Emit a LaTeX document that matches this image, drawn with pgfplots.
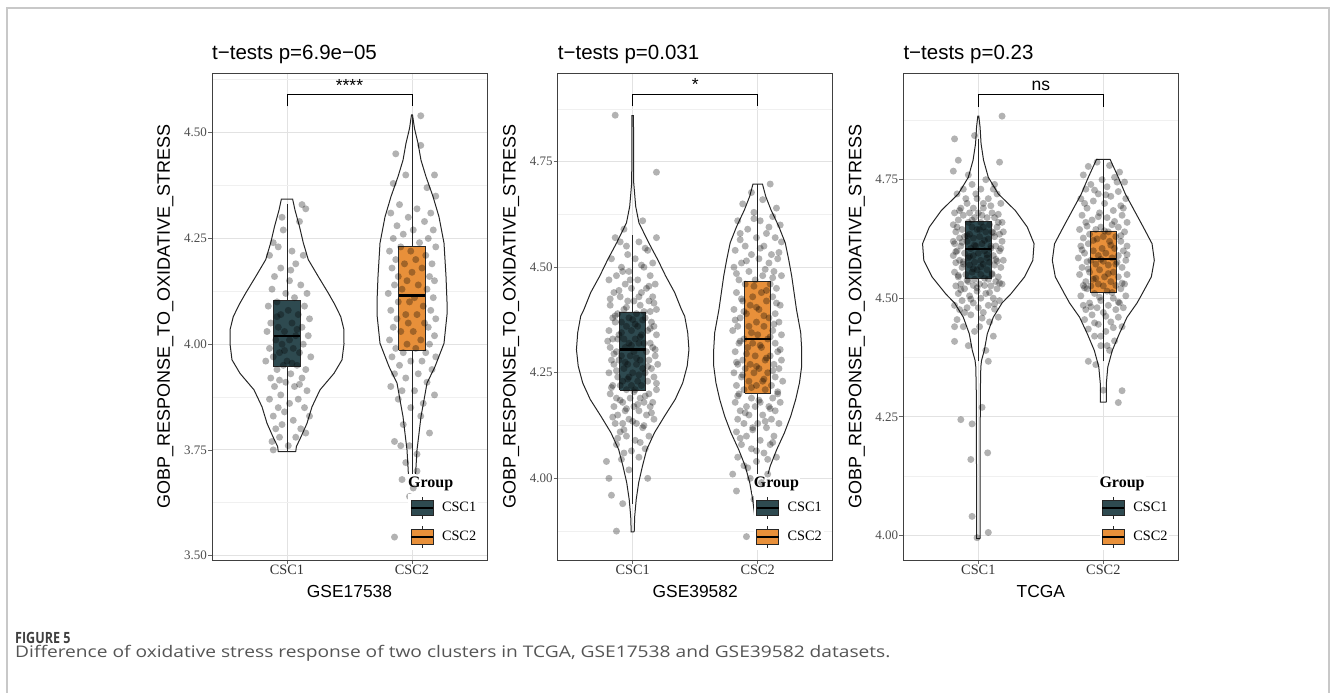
\documentclass[border=0pt]{standalone}
\usepackage{fontspec}
\setmainfont{Liberation Serif}
\newfontfamily\arial{Liberation Sans}
\newfontfamily\capfont{Open Sans}
\usepackage{pgfplots}
\pgfplotsset{compat=1.18}
\definecolor{cscA}{HTML}{2E4A50}
\definecolor{cscB}{HTML}{E8903A}
\definecolor{tickgray}{HTML}{4D4D4D}
\definecolor{majgrid}{HTML}{E2E2E2}
\definecolor{mingrid}{HTML}{F0F0F0}
\definecolor{framegray}{HTML}{C8C8C8}
\definecolor{capgray}{HTML}{555555}

\pgfplotsset{
  panel/.style={
    scale only axis, width=275pt, height=487pt,
    anchor=south west,
    xmin=0.4, xmax=2.6,
    xtick={1,2}, xticklabels={CSC1,CSC2},
    axis line style={black!75, line width=0.9pt},
    tick align=outside, major tick length=4pt, minor tick length=0pt,
    tick style={black!60, line width=0.8pt},
    tick pos=left,
    xmajorgrids=true, ymajorgrids=true, yminorgrids=true,
    major grid style={majgrid, line width=1pt},
    minor grid style={mingrid, line width=0.7pt},
    yticklabel style={font=\fontsize{13}{13}\selectfont, text=tickgray, inner sep=1pt},
    xticklabel style={font=\fontsize{14.3}{14.3}\selectfont, text=black!80, inner sep=1pt},
    legend style={at={(0.7127,0.0195)}, anchor=south west, draw=none, fill=white,
      inner sep=2pt, row sep=6.3pt, font=\fontsize{14.3}{14.3}\selectfont,
      cells={anchor=west}, nodes={inner sep=0pt},
      /tikz/every odd column/.append style={column sep=8.3pt}},
  },
  violin/.style={forget plot, black!85, line width=1pt, mark=none},
  pts/.style={forget plot, only marks, mark=*, mark size=3.5pt,
    mark options={draw opacity=0, fill=black, fill opacity=0.3}},
  whisk/.style={forget plot, black!85, line width=0.8pt, mark=none},
  boxA/.style={forget plot, draw=black!85, fill=cscA, line width=0.8pt, mark=none},
  boxB/.style={forget plot, draw=black!85, fill=cscB, line width=0.8pt, mark=none},
  med/.style={forget plot, black, line width=2.2pt, mark=none},
  brk/.style={forget plot, black, line width=0.9pt, mark=none},
}
\newcommand{\keyA}{\addlegendimage{legend image code/.code={%
  \draw[black!85,line width=0.8pt] (11pt,-11pt)--(11pt,11pt);
  \draw[black!85,line width=0.8pt,fill=cscA] (0pt,-7.5pt) rectangle (22pt,7.5pt);
  \draw[black,line width=1.5pt] (0pt,0pt)--(22pt,0pt);}}\addlegendentry{CSC1}}
\newcommand{\keyB}{\addlegendimage{legend image code/.code={%
  \draw[black!85,line width=0.8pt] (11pt,-11pt)--(11pt,11pt);
  \draw[black!85,line width=0.8pt,fill=cscB] (0pt,-7.5pt) rectangle (22pt,7.5pt);
  \draw[black,line width=1.5pt] (0pt,0pt)--(22pt,0pt);}}\addlegendentry{CSC2}}
\newcommand{\grouptitle}{\node[anchor=base west, font=\fontsize{16}{16}\selectfont\bfseries, fill=white, inner xsep=1.5pt, inner ysep=3pt] at (rel axis cs:0.7073,0.1495) {Group};}

\begin{document}
\begin{tikzpicture}[x=1pt,y=1pt]
\path[use as bounding box] (0pt,0pt) rectangle (1330pt,693pt);
\draw[framegray, line width=1.5pt] (7pt,0pt) -- (7pt,685pt) -- (1329pt,685pt) -- (1329pt,0pt);

% ---------------- Panel 1: GSE17538 ----------------
\begin{axis}[panel, at={(212pt,133pt)},
  ymin=3.4898, ymax=4.6411,
  ytick={3.5,3.75,4,4.25,4.5}, yticklabels={3.50,3.75,4.00,4.25,4.50},
  minor ytick={3.625,3.875,4.125,4.375,4.625}]
\addplot[violin] coordinates {(1.07,3.746) (1.075,3.758) (1.112,3.781) (1.16,3.813) (1.20,3.852) (1.264,3.892) (1.376,3.931) (1.44,3.963) (1.456,4.001) (1.455,4.035) (1.43,4.065) (1.38,4.095) (1.33,4.121) (1.25,4.16) (1.17,4.20) (1.13,4.24) (1.10,4.278) (1.064,4.317) (1.045,4.343)
 (0.955,4.343) (0.936,4.317) (0.90,4.278) (0.87,4.24) (0.83,4.20) (0.75,4.16) (0.67,4.121) (0.62,4.095) (0.57,4.065) (0.545,4.035) (0.544,4.001) (0.56,3.963) (0.624,3.931) (0.736,3.892) (0.80,3.852) (0.84,3.813) (0.888,3.781) (0.925,3.758) (0.93,3.746) (1.07,3.746)};
\addplot[violin] coordinates {(2.006,3.545) (2.01,3.60) (2.014,3.64) (2.024,3.663) (2.032,3.71) (2.04,3.75) (2.056,3.789) (2.072,3.829) (2.096,3.868) (2.12,3.908) (2.184,3.947) (2.256,4.002) (2.28,4.07) (2.28,4.10) (2.272,4.16) (2.256,4.239) (2.216,4.301) (2.168,4.349) (2.112,4.396) (2.072,4.435) (2.048,4.475) (2.02,4.51) (2.004,4.542)
 (1.996,4.542) (1.98,4.51) (1.952,4.475) (1.928,4.435) (1.888,4.396) (1.832,4.349) (1.784,4.301) (1.744,4.239) (1.728,4.16) (1.72,4.10) (1.72,4.07) (1.744,4.002) (1.816,3.947) (1.88,3.908) (1.904,3.868) (1.928,3.829) (1.944,3.789) (1.96,3.75) (1.968,3.71) (1.976,3.663) (1.986,3.64) (1.99,3.60) (1.994,3.545) (2.006,3.545)};
\addplot[whisk] coordinates {(1,3.748) (1,4.331)};
\addplot[boxA] coordinates {(0.895,3.947) (1.105,3.947) (1.105,4.104) (0.895,4.104) (0.895,3.947)};
\addplot[med] coordinates {(0.895,4.019) (1.105,4.019)};
\addplot[whisk] coordinates {(2,3.643) (2,4.538)};
\addplot[boxB] coordinates {(1.895,3.986) (2.105,3.986) (2.105,4.231) (1.895,4.231) (1.895,3.986)};
\addplot[med] coordinates {(1.895,4.115) (2.105,4.115)};
\addplot[pts] coordinates {
(1.12,4.33) (1.15,4.32) (0.96,4.30) (1.10,4.29) (0.97,4.27) (0.89,4.24) (0.93,4.23) (1.04,4.22) (1.13,4.21) (0.86,4.21) (1.07,4.19) (0.95,4.18)
(0.90,4.16) (1.02,4.15) (1.11,4.14) (0.88,4.13) (0.99,4.12) (1.16,4.12) (1.06,4.11) (0.92,4.10) (1.14,4.09) (0.85,4.09) (1.01,4.08) (1.09,4.07) (0.95,4.07) (1.18,4.06)
(0.87,4.05) (1.04,4.05) (0.93,4.04) (1.12,4.04) (0.98,4.03) (0.84,4.03) (1.07,4.02) (1.17,4.02) (0.91,4.01) (1.02,4.01) (0.96,4.00) (1.13,4.00) (0.86,3.99) (1.05,3.99) (0.94,3.98) (1.10,3.98) (1.19,3.97) (0.89,3.97) (1.00,3.96) (0.83,3.96) (1.08,3.95) (0.97,3.95) (1.15,3.94) (0.92,3.94) (1.03,3.93) (0.87,3.92) (1.12,3.92) (0.99,3.91) (1.06,3.90) (0.90,3.90)
(1.16,3.89) (0.95,3.88) (1.09,3.87) (0.86,3.87) (1.02,3.86) (0.93,3.85) (1.14,3.85) (0.98,3.84) (1.18,3.83) (0.89,3.83) (1.05,3.82) (0.96,3.81) (1.11,3.80) (0.91,3.80)
(1.15,3.79) (0.94,3.78) (1.07,3.78) (0.88,3.77) (1.01,3.76) (0.89,3.75)
(1.03,4.175) (0.92,4.065) (1.08,4.035) (0.98,3.985) (1.04,3.955) (0.94,3.915) (1.10,3.905)};
\addplot[pts] coordinates {
(2.07,4.54) (1.87,4.45) (2.07,4.47) (1.95,4.40) (2.18,4.40) (1.85,4.38) (2.19,4.35) (2.12,4.37)
(1.90,4.33) (2.04,4.32) (1.83,4.31) (2.15,4.31) (1.97,4.30) (2.10,4.29) (1.88,4.28) (2.17,4.27) (2.01,4.27) (1.93,4.26) (2.13,4.25) (1.85,4.25)
(2.06,4.24) (1.91,4.23) (2.19,4.23) (1.82,4.22) (1.99,4.22) (2.11,4.21) (1.87,4.20) (2.03,4.20) (2.16,4.19) (1.94,4.19) (1.84,4.18) (2.08,4.18) (2.00,4.17) (2.14,4.16) (1.89,4.16) (1.96,4.15) (2.18,4.15)
(1.86,4.14) (2.05,4.14) (2.12,4.13) (1.92,4.13) (1.81,4.12) (2.02,4.11) (2.17,4.11) (1.98,4.10) (1.89,4.10) (2.09,4.09) (2.15,4.08) (1.83,4.08) (1.95,4.07) (2.04,4.07) (2.19,4.06) (1.88,4.06) (2.10,4.05) (1.97,4.05)
(1.85,4.04) (2.13,4.04) (2.01,4.03) (1.91,4.03) (2.18,4.02) (1.82,4.01) (2.07,4.01) (1.96,4.00) (2.14,4.00) (1.87,3.99) (2.03,3.99) (1.93,3.98) (2.11,3.98) (1.84,3.97) (2.19,3.97) (1.99,3.96) (2.08,3.96) (1.90,3.95)
(2.16,3.94) (1.86,3.93) (2.05,3.93) (1.95,3.92) (2.12,3.91) (1.83,3.90) (2.02,3.89) (1.92,3.89) (2.18,3.88) (1.89,3.87) (2.09,3.86)
(1.99,3.85) (2.07,3.83) (1.93,3.81) (2.14,3.79) (1.86,3.77) (1.91,3.76) (1.98,3.76) (2.04,3.74) (1.95,3.72) (2.04,3.70) (1.92,3.68) (2.01,3.66) (1.98,3.64) (1.86,3.544)};
\addplot[brk] coordinates {(1,4.562) (1,4.591) (2,4.591) (2,4.562)};
\node[anchor=base, inner sep=0pt, font=\arial\fontsize{17.5}{18}\selectfont] at (axis cs:1.5,4.598) {****};
\keyA \keyB
\grouptitle
\end{axis}

% ---------------- Panel 2: GSE39582 ----------------
\begin{axis}[panel, at={(557.7pt,133pt)},
  ymin=3.8066, ymax=4.960,
  ytick={4,4.25,4.5,4.75}, yticklabels={4.00,4.25,4.50,4.75},
  minor ytick={3.875,4.125,4.375,4.625,4.875}]
\addplot[violin] coordinates {(1.012,3.873) (1.016,3.91) (1.028,3.95) (1.048,3.99) (1.078,4.029) (1.112,4.068) (1.174,4.108) (1.254,4.147) (1.34,4.187) (1.40,4.226) (1.436,4.266) (1.45,4.305) (1.44,4.345) (1.416,4.384) (1.39,4.40) (1.336,4.44) (1.264,4.479) (1.20,4.518) (1.128,4.558) (1.05,4.605) (1.024,4.644) (1.008,4.70) (1.006,4.859)
 (0.994,4.859) (0.992,4.70) (0.976,4.644) (0.95,4.605) (0.872,4.558) (0.80,4.518) (0.736,4.479) (0.664,4.44) (0.61,4.40) (0.584,4.384) (0.56,4.345) (0.55,4.305) (0.564,4.266) (0.60,4.226) (0.66,4.187) (0.746,4.147) (0.826,4.108) (0.888,4.068) (0.922,4.029) (0.952,3.99) (0.972,3.95) (0.984,3.91) (0.988,3.873) (1.012,3.873)};
\addplot[violin] coordinates {(2.012,3.862) (2.024,3.91) (2.04,3.95) (2.064,3.99) (2.10,4.029) (2.152,4.068) (2.214,4.108) (2.264,4.147) (2.304,4.187) (2.334,4.226) (2.352,4.266) (2.352,4.305) (2.344,4.345) (2.31,4.40) (2.272,4.479) (2.248,4.518) (2.22,4.558) (2.168,4.597) (2.106,4.636) (2.064,4.668) (2.038,4.697)
 (1.962,4.697) (1.936,4.668) (1.894,4.636) (1.832,4.597) (1.78,4.558) (1.752,4.518) (1.728,4.479) (1.69,4.40) (1.656,4.345) (1.648,4.305) (1.648,4.266) (1.666,4.226) (1.696,4.187) (1.736,4.147) (1.786,4.108) (1.848,4.068) (1.90,4.029) (1.936,3.99) (1.96,3.95) (1.976,3.91) (1.988,3.862) (2.012,3.862)};
\addplot[whisk] coordinates {(1,3.94) (1,4.577)};
\addplot[boxA] coordinates {(0.895,4.209) (1.105,4.209) (1.105,4.394) (0.895,4.394) (0.895,4.209)};
\addplot[med] coordinates {(0.895,4.305) (1.105,4.305)};
\addplot[whisk] coordinates {(2,3.862) (2,4.697)};
\addplot[boxB] coordinates {(1.895,4.201) (2.105,4.201) (2.105,4.467) (1.895,4.467) (1.895,4.201)};
\addplot[med] coordinates {(1.895,4.330) (2.105,4.330)};
\addplot[pts] coordinates {
(0.86,4.86) (1.19,4.725) (0.93,4.59) (1.08,4.61)
(0.86,4.57) (1.19,4.57) (1.05,4.56) (0.95,4.55) (1.12,4.54)
(0.83,4.52) (1.02,4.52) (1.16,4.51) (0.91,4.50) (1.09,4.50) (0.97,4.49) (1.14,4.48) (0.87,4.48)
(1.04,4.47) (0.81,4.47) (1.18,4.46) (0.94,4.46) (1.11,4.45) (0.99,4.45) (0.85,4.44) (1.07,4.44) (1.16,4.43) (0.90,4.43) (1.01,4.42) (0.96,4.42)
(1.13,4.42) (0.82,4.41) (1.06,4.41) (0.93,4.40) (1.19,4.40) (0.88,4.39) (1.03,4.39) (1.10,4.38) (0.97,4.38) (0.84,4.38) (1.15,4.37) (0.91,4.37) (1.00,4.376) (1.08,4.375)
(0.86,4.37) (1.17,4.36) (0.95,4.36) (1.04,4.36) (0.81,4.35) (1.12,4.35) (0.99,4.35) (0.89,4.34) (1.07,4.34) (1.19,4.34) (0.93,4.33) (1.02,4.33) (0.84,4.33) (1.14,4.32) (0.97,4.32) (1.09,4.32) (0.88,4.33)
(1.05,4.32) (0.82,4.31) (1.16,4.31) (0.94,4.31) (1.01,4.30) (0.87,4.30) (1.11,4.30) (0.98,4.29) (1.18,4.29) (0.91,4.29) (1.06,4.28) (0.83,4.28) (1.13,4.28) (0.96,4.27) (1.03,4.27) (0.89,4.28) (1.20,4.27)
(0.85,4.27) (1.08,4.26) (0.93,4.26) (1.15,4.26) (1.00,4.25) (0.81,4.25) (1.10,4.25) (0.97,4.24) (0.88,4.24) (1.17,4.24) (1.04,4.23) (0.92,4.23) (1.12,4.23) (0.84,4.22) (0.99,4.22) (1.07,4.22)
(0.90,4.22) (1.19,4.21) (0.95,4.21) (1.02,4.21) (0.82,4.20) (1.13,4.20) (0.87,4.19) (1.06,4.19) (0.98,4.19) (1.16,4.18) (0.92,4.18) (1.09,4.18) (0.85,4.17) (1.01,4.17)
(1.14,4.17) (0.94,4.16) (1.05,4.16) (0.88,4.15) (1.11,4.15) (0.97,4.14) (1.17,4.14) (0.86,4.13) (1.03,4.13) (0.92,4.13)
(1.08,4.12) (0.90,4.11) (1.13,4.10) (0.95,4.10) (1.02,4.09) (0.87,4.08)
(1.10,4.07) (0.93,4.06) (1.05,4.05) (0.79,4.04) (1.12,4.00) (0.81,4.00) (0.97,4.02) (0.83,3.96) (0.92,3.94) (0.87,3.875)
(0.98,4.47) (1.13,4.455) (0.89,4.445) (1.05,4.43) (0.82,4.425) (1.17,4.415) (0.95,4.405) (1.09,4.395) (0.86,4.385) (1.02,4.365) (1.14,4.355) (0.91,4.345) (1.06,4.335) (0.80,4.325) (0.99,4.315) (1.18,4.305) (0.85,4.295) (1.03,4.285) (0.94,4.275) (1.12,4.265) (0.87,4.255) (1.05,4.245) (0.96,4.235) (1.19,4.225) (0.83,4.215) (1.01,4.205) (1.10,4.195) (0.90,4.185) (1.04,4.175) (0.95,4.165) (1.15,4.155) (0.84,4.145) (1.00,4.135) (1.09,4.125) (0.93,4.115) (0.88,4.095) (1.06,4.085) (0.99,4.065) (0.91,4.045) (1.14,4.395) (0.92,4.49) (1.07,4.505) (0.96,4.53) (1.10,4.545) (0.90,4.56)};
\addplot[pts] coordinates {
(2.10,4.697) (1.95,4.677) (2.04,4.66) (1.88,4.65) (2.15,4.64) (1.97,4.63)
(2.12,4.62) (1.84,4.61) (2.02,4.61) (2.18,4.60) (1.92,4.59) (2.07,4.58)
(1.86,4.58) (2.14,4.57) (1.99,4.57) (2.19,4.56) (1.90,4.55) (2.05,4.55) (1.82,4.54) (2.11,4.53)
(1.95,4.53) (2.16,4.52) (2.01,4.52) (1.87,4.51) (2.09,4.51) (1.81,4.50) (2.13,4.49) (1.93,4.49) (2.04,4.48)
(2.19,4.48) (1.85,4.47) (1.98,4.47) (2.10,4.46) (1.90,4.46) (2.15,4.45) (2.03,4.44) (1.83,4.44) (1.96,4.43) (2.12,4.43)
(1.88,4.42) (2.07,4.42) (2.18,4.41) (1.94,4.41) (1.81,4.40) (2.01,4.40) (2.14,4.39) (1.91,4.39) (2.09,4.38) (1.86,4.38) (1.99,4.37)
(2.17,4.37) (1.84,4.36) (2.05,4.36) (1.93,4.36) (2.12,4.35) (1.80,4.35) (2.00,4.34) (2.19,4.34) (1.89,4.33) (2.08,4.33) (1.96,4.32) (2.14,4.32)
(1.85,4.32) (2.03,4.31) (1.92,4.31) (2.16,4.30) (1.82,4.30) (2.10,4.29) (1.98,4.29) (1.88,4.28) (2.06,4.28) (2.19,4.28) (1.94,4.27) (2.13,4.27) (1.84,4.27)
(2.01,4.26) (1.90,4.26) (2.17,4.26) (1.81,4.25) (2.08,4.25) (1.97,4.25) (2.14,4.24) (1.87,4.24) (2.04,4.23) (1.93,4.23) (2.20,4.23) (1.83,4.22) (2.11,4.22)
(1.99,4.22) (1.89,4.21) (2.06,4.21) (2.16,4.20) (1.85,4.20) (1.95,4.19) (2.12,4.19) (2.02,4.18) (1.82,4.18) (2.18,4.18) (1.91,4.17) (2.09,4.17)
(1.98,4.17) (1.86,4.16) (2.14,4.16) (2.04,4.15) (1.93,4.15) (1.84,4.14) (2.11,4.14) (2.00,4.13) (1.89,4.13) (2.17,4.13)
(1.96,4.12) (2.07,4.12) (1.83,4.11) (2.13,4.10) (1.91,4.10) (2.02,4.09) (1.87,4.08) (2.10,4.08)
(1.95,4.07) (2.05,4.06) (1.84,4.05) (2.15,4.05) (1.99,4.04) (1.89,4.03)
(1.80,4.01) (2.08,4.01) (1.94,4.00) (2.03,3.99) (1.83,3.97) (1.97,3.95) (1.91,3.862)
(1.97,4.615) (2.09,4.595) (1.86,4.565) (2.02,4.545) (2.17,4.535) (1.91,4.515) (2.06,4.495) (1.83,4.485) (2.12,4.475) (1.97,4.455) (2.07,4.445) (1.87,4.425) (2.15,4.415) (1.99,4.405) (1.89,4.395) (2.05,4.385) (1.82,4.375) (2.13,4.365) (1.95,4.345) (2.10,4.335) (1.86,4.325) (2.02,4.315) (2.18,4.305) (1.91,4.295) (2.07,4.285) (1.83,4.275) (1.99,4.265) (2.12,4.255) (1.88,4.245) (2.05,4.235) (1.95,4.215) (2.16,4.205) (1.84,4.195) (2.01,4.185) (2.10,4.165) (1.90,4.155) (2.06,4.135) (1.96,4.115) (1.86,4.095) (2.12,4.085) (1.99,4.065) (2.08,4.045) (1.92,4.025)};
\addplot[brk] coordinates {(1,4.881) (1,4.910) (2,4.910) (2,4.881)};
\node[anchor=base, inner sep=0pt, font=\arial\fontsize{17.5}{18}\selectfont] at (axis cs:1.5,4.918) {*};
\keyA \keyB
\grouptitle
\end{axis}

% ---------------- Panel 3: TCGA ----------------
\begin{axis}[panel, at={(903.3pt,133pt)},
  ymin=3.948, ymax=4.975,
  ytick={4,4.25,4.5,4.75}, yticklabels={4.00,4.25,4.50,4.75},
  minor ytick={4.125,4.375,4.625,4.875}]
\addplot[violin] coordinates {(1.014,3.993) (1.014,4.10) (1.015,4.20) (1.016,4.30) (1.02,4.355) (1.026,4.369) (1.048,4.39) (1.072,4.425) (1.12,4.46) (1.19,4.49) (1.26,4.509) (1.37,4.545) (1.436,4.58) (1.446,4.615) (1.392,4.65) (1.296,4.685) (1.16,4.72) (1.08,4.755) (1.042,4.791) (1.022,4.826) (1.014,4.861) (1.004,4.884)
 (0.996,4.884) (0.986,4.861) (0.978,4.826) (0.958,4.791) (0.92,4.755) (0.84,4.72) (0.704,4.685) (0.608,4.65) (0.554,4.615) (0.564,4.58) (0.63,4.545) (0.74,4.509) (0.81,4.49) (0.88,4.46) (0.928,4.425) (0.952,4.39) (0.974,4.369) (0.98,4.355) (0.984,4.30) (0.985,4.20) (0.986,4.10) (0.986,3.993) (1.014,3.993)};
\addplot[violin] coordinates {(2.024,4.281) (2.024,4.32) (2.036,4.355) (2.072,4.39) (2.128,4.425) (2.19,4.46) (2.27,4.49) (2.31,4.509) (2.384,4.545) (2.408,4.58) (2.39,4.615) (2.32,4.65) (2.248,4.685) (2.176,4.72) (2.12,4.755) (2.054,4.793)
 (1.946,4.793) (1.88,4.755) (1.824,4.72) (1.752,4.685) (1.68,4.65) (1.61,4.615) (1.592,4.58) (1.616,4.545) (1.69,4.509) (1.73,4.49) (1.81,4.46) (1.872,4.425) (1.928,4.39) (1.964,4.355) (1.976,4.32) (1.976,4.281) (2.024,4.281)};
\addplot[whisk] coordinates {(1,4.367) (1,4.836)};
\addplot[boxA] coordinates {(0.895,4.542) (1.105,4.542) (1.105,4.662) (0.895,4.662) (0.895,4.542)};
\addplot[med] coordinates {(0.895,4.603) (1.105,4.603)};
\addplot[whisk] coordinates {(2,4.367) (2,4.793)};
\addplot[boxB] coordinates {(1.895,4.513) (2.105,4.513) (2.105,4.642) (1.895,4.642) (1.895,4.513)};
\addplot[med] coordinates {(1.895,4.583) (2.105,4.583)};
\addplot[pts] coordinates {
(1.19,4.884) (0.97,4.843) (0.81,4.836) (0.84,4.791) (1.17,4.787) (0.80,4.768)
(0.92,4.76) (1.06,4.75) (1.13,4.74) (0.88,4.73) (1.02,4.73) (0.95,4.74)
(1.15,4.72) (0.83,4.72) (0.99,4.71) (1.08,4.71) (0.91,4.70) (1.18,4.70) (0.86,4.69) (1.04,4.69) (0.96,4.69) (1.11,4.68) (0.81,4.68) (1.00,4.68) (0.93,4.68) (1.16,4.677)
(0.88,4.675) (1.07,4.67) (0.97,4.67) (1.13,4.67) (0.84,4.665) (1.02,4.66) (0.92,4.66) (1.19,4.66) (0.80,4.655) (1.09,4.655) (0.95,4.65) (1.04,4.65) (1.15,4.65) (0.87,4.645) (0.99,4.645) (1.11,4.64) (0.82,4.64) (1.06,4.64) (0.93,4.635) (1.17,4.635) (0.89,4.63) (1.01,4.63) (1.13,4.63) (0.85,4.627) (0.96,4.627)
(1.08,4.625) (1.19,4.62) (0.91,4.62) (0.81,4.615) (1.03,4.615) (0.98,4.61) (1.14,4.61) (0.86,4.61) (1.10,4.605) (0.94,4.605) (0.83,4.60) (1.05,4.60) (1.17,4.60) (0.89,4.595) (1.00,4.595) (1.12,4.59) (0.96,4.59) (0.80,4.59) (1.07,4.585) (0.92,4.585) (1.20,4.58) (0.85,4.58) (1.02,4.58) (1.15,4.578) (0.88,4.577) (0.97,4.576) (1.09,4.576) (0.82,4.575)
(1.04,4.572) (0.93,4.57) (1.13,4.57) (0.87,4.565) (1.18,4.565) (0.99,4.56) (1.07,4.56) (0.81,4.555) (0.95,4.555) (1.11,4.55) (0.90,4.55) (1.02,4.55) (1.16,4.545) (0.84,4.545) (0.97,4.54) (1.08,4.54) (0.92,4.535) (1.14,4.535) (0.86,4.53) (1.01,4.53) (1.19,4.53) (0.96,4.527) (1.05,4.527) (0.82,4.526) (1.10,4.526)
(0.89,4.52) (1.15,4.52) (0.99,4.515) (1.06,4.51) (0.84,4.51) (0.93,4.505) (1.12,4.50) (1.02,4.50) (0.87,4.495) (1.17,4.495) (0.96,4.49) (1.08,4.485) (0.81,4.485) (1.00,4.48) (0.91,4.48) (1.13,4.477) (0.85,4.476)
(1.04,4.47) (0.94,4.465) (1.16,4.46) (0.83,4.455) (1.09,4.45) (0.88,4.44) (1.01,4.44) (0.81,4.44)
(1.12,4.42) (0.81,4.409) (0.92,4.40) (1.06,4.39)
(1.08,4.367) (1.03,4.27) (0.86,4.244) (0.95,4.235) (1.075,4.174) (0.94,4.16) (0.95,4.04) (1.08,4.006) (0.99,3.995)
(0.90,4.71) (1.10,4.695) (0.85,4.685) (1.03,4.675) (0.95,4.665) (1.16,4.66) (0.83,4.65) (1.01,4.645) (1.12,4.638) (0.91,4.632) (1.05,4.622) (0.87,4.618) (0.97,4.612) (1.18,4.605) (0.82,4.598) (1.07,4.592) (0.93,4.588) (1.14,4.582) (0.88,4.572) (1.02,4.566) (0.96,4.562) (1.11,4.552) (0.84,4.548) (1.05,4.542) (0.91,4.538) (1.17,4.532) (0.99,4.522) (0.86,4.518) (1.09,4.512) (0.94,4.498) (1.13,4.488) (0.89,4.47) (1.03,4.458) (0.97,4.43) (1.10,4.61) (0.80,4.62) (1.20,4.64) (1.04,4.70) (0.98,4.72) (1.12,4.73)};
\addplot[pts] coordinates {
(1.88,4.778) (1.95,4.787) (2.13,4.766) (2.05,4.78)
(1.84,4.76) (2.09,4.755) (1.99,4.75) (2.17,4.745) (1.90,4.74) (2.03,4.735) (1.86,4.73)
(2.12,4.725) (1.96,4.72) (2.06,4.715) (1.82,4.71) (2.18,4.71) (1.92,4.705) (2.01,4.70) (2.14,4.695) (1.87,4.69) (2.08,4.685) (1.97,4.68)
(1.83,4.675) (2.15,4.675) (2.03,4.67) (1.91,4.665) (2.19,4.66) (1.86,4.66) (2.07,4.655) (1.98,4.65) (2.12,4.65) (1.81,4.645) (1.94,4.645) (2.04,4.64) (2.17,4.64) (1.89,4.635) (2.00,4.63) (2.10,4.63) (1.84,4.627)
(1.95,4.625) (2.14,4.62) (2.05,4.62) (1.88,4.615) (2.19,4.61) (1.82,4.61) (1.99,4.605) (2.09,4.605) (1.92,4.60) (2.16,4.60) (1.85,4.595) (2.02,4.595) (2.12,4.59) (1.96,4.59) (1.80,4.585) (2.07,4.585) (1.90,4.58) (2.18,4.58) (2.00,4.578) (1.87,4.577) (2.11,4.576)
(1.94,4.572) (2.04,4.57) (1.83,4.565) (2.15,4.565) (1.97,4.56) (2.08,4.555) (1.89,4.555) (2.19,4.55) (1.81,4.55) (2.01,4.545) (2.12,4.545) (1.92,4.54) (1.86,4.535) (2.06,4.535) (2.17,4.53) (1.96,4.53) (1.84,4.527) (2.10,4.527) (2.00,4.526) (1.90,4.526)
(2.14,4.52) (1.87,4.52) (2.03,4.515) (1.93,4.51) (2.18,4.505) (1.82,4.505) (2.08,4.50) (1.98,4.495) (1.89,4.49) (2.13,4.49) (1.84,4.485) (2.04,4.485) (1.95,4.48) (2.16,4.48) (1.86,4.476) (2.10,4.476)
(2.00,4.47) (1.91,4.465) (2.12,4.46) (1.85,4.455) (2.06,4.45) (1.96,4.445) (2.15,4.44) (1.88,4.435) (2.02,4.43)
(1.93,4.42) (2.09,4.41) (1.98,4.40) (2.05,4.39)
(1.88,4.367) (1.94,4.36) (2.00,4.306) (2.15,4.305) (2.12,4.28)
(2.11,4.745) (1.93,4.728) (2.02,4.718) (1.85,4.70) (2.16,4.69) (1.96,4.672) (2.09,4.662) (1.87,4.652) (2.01,4.642) (2.14,4.632) (1.92,4.622) (2.06,4.612) (1.83,4.602) (2.19,4.592) (1.98,4.582) (2.10,4.572) (1.88,4.562) (2.04,4.552) (1.94,4.542) (2.15,4.532) (1.85,4.522) (2.07,4.512) (1.97,4.502) (2.12,4.492) (1.90,4.482) (2.02,4.462) (1.93,4.448) (2.08,4.438) (1.98,4.42) (2.03,4.40)};
\addplot[brk] coordinates {(1,4.903) (1,4.929) (2,4.929) (2,4.903)};
\node[anchor=base, inner sep=0pt, font=\arial\fontsize{17.5}{18}\selectfont] at (axis cs:1.5,4.939) {ns};
\keyA \keyB
\grouptitle
\end{axis}

% ---------------- titles and labels ----------------
\foreach \L/\T/\X in {212/{t−tests p=6.9e−05}/GSE17538, 557.7/{t−tests p=0.031}/GSE39582, 903.3/{t−tests p=0.23}/TCGA}{
  \node[anchor=base west, inner sep=0pt, font=\arial\fontsize{20.5}{24}\selectfont] at (\L pt,633.7pt) {\T};
  \node[inner sep=0pt, font=\arial\fontsize{17.4}{20}\selectfont] at (\L pt+137.5pt,101.3pt) {\X};
  \node[rotate=90, inner sep=0pt, font=\arial\fontsize{18}{20}\selectfont] at (\L pt-46.5pt,376.5pt) {GOBP\_RESPONSE\_TO\_OXIDATIVE\_STRESS};
}

% ---------------- caption ----------------
\node[anchor=west, inner sep=0pt, text=black!75, font=\capfont\bfseries\fontsize{15.5}{18}\selectfont] at (15pt,55.3pt) {\scalebox{0.81}[1]{FIGURE 5}};
\node[anchor=west, inner sep=0pt, text=capgray, font=\capfont\fontsize{16}{20}\selectfont] at (15pt,39.7pt) {\scalebox{1.198}[1]{Difference of oxidative stress response of two clusters in TCGA, GSE17538 and GSE39582 datasets.}};
\end{tikzpicture}
\end{document}
